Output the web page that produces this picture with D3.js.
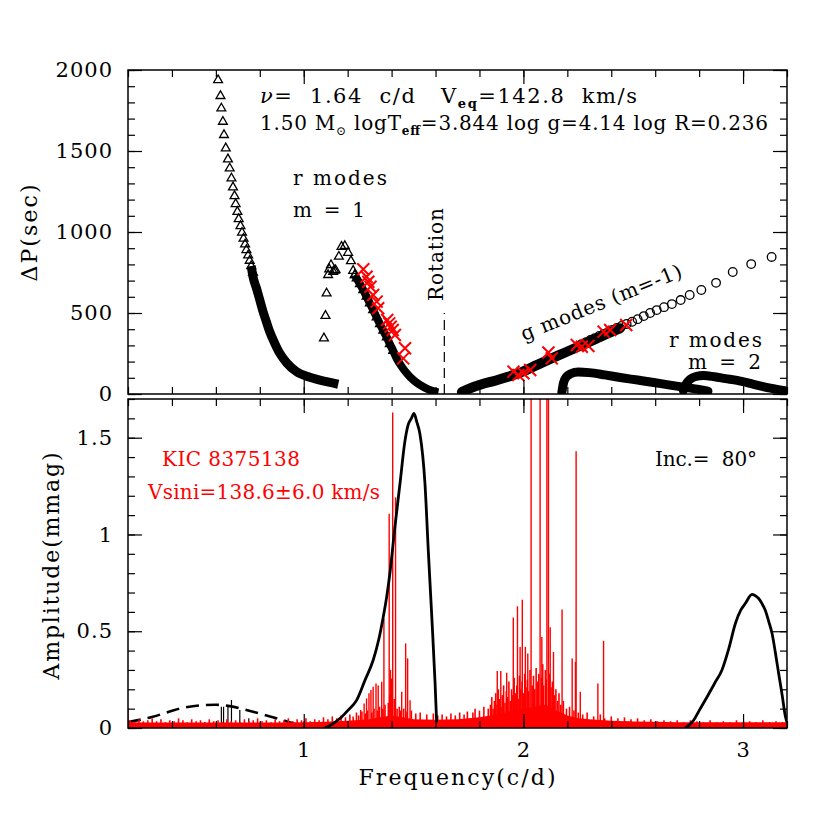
<!DOCTYPE html>
<html>
<head>
<meta charset="utf-8">
<script src="https://cdn.jsdelivr.net/npm/d3@7"></script>
<style>
html, body { margin: 0; padding: 0; background: #fff; }
svg { display: block; font-family: 'DejaVu Serif', serif; }
</style>
</head>
<body>
<svg id="chart" width="830" height="830"></svg>
<script>
// ---- top panel: period spacing (sec) vs frequency (c/d) ----
const rotFreq = 1.64;
const rotLineTop = 500;

// r modes m=1, low-frequency branch: resolved triangles, then the dense run
const rModeLow = [[0.610,1938],[0.621,1840],[0.625,1763],[0.632,1681],[0.637,1599],[0.645,1517],[0.655,1449],
  [0.663,1393],[0.671,1331],[0.678,1276],[0.685,1222],[0.690,1173],[0.698,1125],[0.704,1080],[0.712,1037],
  [0.719,996],[0.726,959],[0.733,924],[0.739,889],[0.747,856],[0.754,823],[0.761,790],[0.769,750]];
const rModeLowBand = [[0.761,790],[0.769,724],[0.785,652],[0.800,580],[0.815,508],[0.830,446],
  [0.845,385],[0.868,313],[0.891,251],[0.922,193],[0.967,138],[1.028,103],[1.104,76],[1.157,60]];

// r modes m=1, second branch
const rModeHigh = [[1.092,344],[1.099,483],[1.104,621],[1.111,735],[1.116,770],[1.124,796],[1.134,755],
  [1.140,762],[1.145,765],[1.160,848],[1.172,909],[1.187,914],[1.202,872],[1.215,821],[1.225,761],[1.233,735]];
const rModeHighBand = [[1.233,735],[1.241,714],[1.256,679],[1.271,642],[1.286,601],[1.301,560],[1.316,519],
  [1.332,473],[1.347,432],[1.362,391],[1.378,350],[1.392,309],[1.407,267],[1.423,220],[1.446,169],[1.469,128],
  [1.499,86],[1.529,56],[1.567,29],[1.598,14],[1.613,10]];

// g modes m=-1
const gModes = [[3.130,846],[3.037,802],[2.953,753],[2.877,686],[2.810,642],[2.757,611],[2.716,580],[2.676,555],
  [2.640,536],[2.607,518],[2.577,500],[2.548,481],[2.520,462],[2.495,446],[2.470,432],[2.447,420],[2.425,408],
  [2.405,396],[2.385,383],[2.365,371],[2.345,358],[2.325,345],[2.305,333],[2.285,320],[2.265,308]];
const gModesBand = [[1.720,12],[1.757,35],[1.810,60],[1.871,82],[1.930,106],[1.985,132],[2.050,172],[2.122,216],
  [2.190,256],[2.259,298],[2.330,340],[2.395,380],[2.440,405]];

// r modes m=2 (two runs)
const rModeM2a = [[2.175,10],[2.183,70],[2.195,105],[2.215,125],[2.250,136],[2.300,132],[2.370,118],[2.441,102],
  [2.520,86],[2.593,71],[2.660,56],[2.729,42],[2.790,30],[2.840,18]];
const rModeM2b = [[2.728,22],[2.740,60],[2.760,92],[2.785,108],[2.820,114],[2.870,106],[2.920,95],[2.973,84],
  [3.048,60],[3.124,36],[3.200,18]];

// observed spacings (red crosses)
const obsR = [[1.271,770],[1.286,724],[1.294,693],[1.304,662],[1.316,611],[1.332,570],[1.339,529],[1.380,457],
  [1.389,436],[1.396,415],[1.405,395],[1.415,364],[1.461,282],[1.453,220]];
const obsG = [[1.955,138],[1.977,117],[2.000,128],[2.031,148],[2.114,256],[2.129,220],[2.243,302],[2.266,292],
  [2.296,296],[2.365,385],[2.395,395],[2.468,426]];

// ---- bottom panel: amplitude (mmag) ----
const ampRm1 = [[1.096,0],[1.130,0.02],[1.166,0.05],[1.200,0.09],[1.241,0.144],[1.280,0.25],[1.316,0.35],
  [1.342,0.46],[1.362,0.574],[1.378,0.68],[1.392,0.797],[1.415,1.038],[1.438,1.261],[1.461,1.485],[1.475,1.565],
  [1.490,1.60],[1.502,1.625],[1.515,1.58],[1.529,1.519],[1.552,1.261],[1.567,0.918],[1.583,0.574],[1.598,0.23],
  [1.605,0.03]];
const ampRm2 = [[2.737,0],[2.775,0.04],[2.800,0.09],[2.836,0.16],[2.870,0.23],[2.904,0.30],[2.935,0.41],
  [2.965,0.54],[2.990,0.61],[3.010,0.643],[3.041,0.69],[3.060,0.68],[3.071,0.669],[3.085,0.645],[3.101,0.608],
  [3.117,0.55],[3.132,0.488],[3.147,0.39],[3.162,0.282],[3.178,0.17],[3.193,0.058],[3.200,0.03]];
const ampGLow = [[0.200,0.03],[0.313,0.058],[0.435,0.10],[0.541,0.118],[0.600,0.12],[0.663,0.113],[0.769,0.084],
  [0.876,0.05],[0.982,0.015],[1.073,0.002],[1.100,0]];
const ampGHigh = [[2.100,0],[2.200,0.005],[2.335,0.024],[2.441,0.027],[2.593,0.015],[2.729,0.003],[2.850,0]];
const blackPeaks = [[0.549,0.03],[0.625,0.11],[0.635,0.11],[0.655,0.11],[0.671,0.145],[0.709,0.093],[0.75,0.05]];

// KIC 8375138 amplitude spectrum: solid noise floor, grass, resolved peaks
const noiseFreq = [0.2,0.3,0.4,0.5,0.6,0.7,0.8,0.9,1.0,1.1,1.2,1.3,1.35,1.4,1.45,1.5,1.6,1.7,1.8,1.85,1.9,
  1.95,2.0,2.05,2.1,2.15,2.2,2.25,2.3,2.4,2.5,2.6,2.7,2.8,2.9,3.0,3.1,3.2];
const noiseAmp = [0.03,0.028,0.028,0.028,0.028,0.028,0.028,0.028,0.03,0.032,0.038,0.045,0.055,0.065,0.055,0.045,
  0.042,0.045,0.055,0.065,0.075,0.09,0.1,0.11,0.12,0.09,0.065,0.05,0.045,0.038,0.034,0.032,0.03,0.03,0.03,0.03,0.03,0.03];
const kicGrass = [[0.21,0.04],[0.23,0.03],[0.25,0.045],[0.27,0.035],[0.29,0.04],[0.31,0.05],[0.33,0.035],
  [0.35,0.045],[0.37,0.03],[0.39,0.04],[0.41,0.035],[0.43,0.05],[0.45,0.04],[0.47,0.03],[0.49,0.045],
  [0.51,0.035],[0.53,0.04],[0.55,0.03],[0.57,0.045],[0.59,0.035],[0.61,0.04],[0.63,0.03],[0.65,0.045],
  [0.67,0.035],[0.69,0.04],[0.71,0.03],[0.73,0.045],[0.75,0.035],[0.77,0.04],[0.79,0.05],[0.81,0.035],
  [0.83,0.04],[0.85,0.03],[0.87,0.045],[0.89,0.035],[0.91,0.04],[0.93,0.05],[0.95,0.035],[0.97,0.045],
  [0.99,0.04],[1.01,0.05],[1.03,0.035],[1.05,0.045],[1.07,0.04],[1.09,0.055],[1.11,0.045],[1.13,0.06],
  [1.15,0.05],[1.17,0.065],[1.19,0.055],[1.21,0.07],[1.225,0.06],[1.24,0.08],[1.25,0.065],[1.265,0.085],
  [1.28,0.075],[1.29,0.09],[1.31,0.08],[1.32,0.1],[1.335,0.09],[1.345,0.11],[1.36,0.1],[1.37,0.12],
  [1.385,0.13],[1.392,0.17],[1.398,0.14],[1.412,0.15],[1.425,0.1],[1.435,0.11],[1.44,0.09],[1.455,0.1],
  [1.47,0.085],[1.49,0.09],[1.51,0.075],[1.53,0.08],[1.56,0.07],[1.59,0.075],[1.61,0.065],[1.63,0.07],
  [1.65,0.06],[1.67,0.075],[1.69,0.065],[1.71,0.08],[1.73,0.07],[1.745,0.085],[1.77,0.08],[1.78,0.1],
  [1.80,0.09],[1.82,0.11],[1.84,0.1],[1.850,0.12],[1.856,0.16],[1.862,0.10],[1.868,0.14],[1.874,0.18],
  [1.880,0.12],[1.886,0.20],[1.892,0.15],[1.898,0.11],[1.904,0.17],[1.910,0.22],[1.916,0.13],[1.922,0.19],
  [1.928,0.16],[1.934,0.24],[1.940,0.14],[1.946,0.20],[1.952,0.17],[1.958,0.26],[1.964,0.18],[1.970,0.22],
  [1.976,0.15],[1.982,0.27],[1.988,0.20],[1.994,0.24],[2.000,0.18],[2.006,0.28],[2.012,0.21],[2.018,0.25],
  [2.024,0.19],[2.030,0.30],[2.040,0.22],[2.046,0.27],[2.052,0.20],[2.058,0.31],[2.064,0.24],[2.070,0.28],
  [2.082,0.26],[2.088,0.33],[2.092,0.22],[2.100,0.30],[2.104,0.25],[2.118,0.28],[2.126,0.21],[2.132,0.24],
  [2.142,0.17],[2.148,0.20],[2.156,0.14],[2.162,0.18],[2.170,0.12],[2.182,0.14],[2.196,0.10],[2.21,0.11],
  [2.23,0.09],[2.25,0.08],[2.27,0.07],[2.29,0.08],[2.32,0.06],[2.35,0.07],[2.37,0.05],[2.40,0.06],
  [2.43,0.05],[2.46,0.055],[2.49,0.045],[2.52,0.05],[2.55,0.04],[2.58,0.045],[2.61,0.035],[2.64,0.04],
  [2.67,0.035],[2.70,0.04],[2.73,0.03],[2.76,0.04],[2.79,0.035],[2.82,0.03],[2.85,0.04],[2.88,0.03],
  [2.91,0.035],[2.94,0.03],[2.97,0.04],[3.00,0.03],[3.03,0.035],[3.06,0.03],[3.09,0.04],[3.12,0.03],
  [3.15,0.035],[3.18,0.03]];
const kicPeaks = [[0.2,0.1],[1.259,0.093],[1.275,0.127],[1.286,0.153],[1.297,0.179],[1.306,0.196],[1.316,0.213],
  [1.329,0.23],[1.339,0.22],[1.355,0.239],[1.365,0.565],[1.389,1.107],[1.395,0.3],[1.40,0.256],[1.405,1.63],
  [1.418,1.192],[1.446,0.187],[1.464,0.437],[1.473,0.36],[1.484,0.144],
  [1.881,0.295],[1.897,0.295],[1.924,0.285],[1.954,0.571],[1.973,0.629],[1.985,0.419],[1.995,0.663],
  [2.009,0.419],[2.02,0.385],[2.035,2.5],[2.076,2.5],[2.084,0.47],[2.107,2.5],[2.114,2.5],[2.122,0.52],
  [2.137,0.393],[2.176,0.612],[2.222,0.359],[2.237,0.342],[2.240,1.43],[2.259,0.187],[2.339,0.23],[2.365,0.45]];

// ticks
const xMajor = [1, 2, 3];
const xLabels = ['1', '2', '3'];
const topMajor = [0, 500, 1000, 1500, 2000];
const topLabels = ['0', '500', '1000', '1500', '2000'];
const botMajor = [0, 0.5, 1, 1.5];
const botLabels = ['0', '0.5', '1', '1.5'];

const L = 128, R = 787;
const x = d3.scaleLinear().domain([0.2, 3.2]).range([L, R]);
const yTop = d3.scaleLinear().domain([0, 2000]).range([394, 70]);
const yBot = d3.scaleLinear().domain([0, 1.7]).range([728, 399]);

const svg = d3.select('#chart');
const defs = svg.append('defs');
defs.append('clipPath').attr('id', 'clipTop').append('rect')
  .attr('x', L).attr('y', 70).attr('width', R - L).attr('height', 324);
defs.append('clipPath').attr('id', 'clipBot').append('rect')
  .attr('x', L).attr('y', 399).attr('width', R - L).attr('height', 329);

// ---------- top panel ----------
const gTop = svg.append('g').attr('clip-path', 'url(#clipTop)');
const lineTop = d3.line().x(d => x(d[0])).y(d => yTop(d[1])).curve(d3.curveMonotoneX);

[[rModeLowBand, 9, 'butt'], [rModeHighBand, 8, 'butt'], [gModesBand, 10, 'round'],
 [rModeM2a, 9, 'round'], [rModeM2b, 9, 'round']].forEach(function (b) {
  gTop.append('path').datum(b[0]).attr('d', lineTop)
    .attr('fill', 'none').attr('stroke', '#000').attr('stroke-width', b[1])
    .attr('stroke-linecap', b[2]).attr('stroke-linejoin', 'round');
});

const tri = d3.symbol(d3.symbolTriangle, 34);
gTop.selectAll('.tri').data(rModeLow.concat(rModeHigh, rModeHighBand.slice(0, 13))).enter()
  .append('path').attr('class', 'tri').attr('d', tri)
  .attr('transform', d => 'translate(' + x(d[0]) + ',' + yTop(d[1]) + ')')
  .attr('fill', 'none').attr('stroke', '#000').attr('stroke-width', 1.3);

gTop.selectAll('.circ').data(gModes).enter()
  .append('circle').attr('class', 'circ')
  .attr('cx', d => x(d[0])).attr('cy', d => yTop(d[1])).attr('r', 4.3)
  .attr('fill', 'none').attr('stroke', '#000').attr('stroke-width', 1.3);

// rotation frequency
gTop.append('line').attr('x1', x(rotFreq)).attr('x2', x(rotFreq))
  .attr('y1', yTop(0)).attr('y2', yTop(rotLineTop))
  .attr('stroke', '#000').attr('stroke-width', 1.2).attr('stroke-dasharray', '10,6');

const cross = 'M-6,-6L6,6M-6,6L6,-6';
gTop.selectAll('.obs').data(obsR.concat(obsG)).enter()
  .append('path').attr('class', 'obs').attr('d', cross)
  .attr('transform', d => 'translate(' + x(d[0]) + ',' + yTop(d[1]) + ')')
  .attr('fill', 'none').attr('stroke', '#ff0000').attr('stroke-width', 2);

// ---------- bottom panel ----------
const gBot = svg.append('g').attr('clip-path', 'url(#clipBot)');
const lineBot = d3.line().x(d => x(d[0])).y(d => yBot(d[1])).curve(d3.curveMonotoneX);

[ampGLow, ampGHigh].forEach(function (c) {
  gBot.append('path').datum(c).attr('d', lineBot)
    .attr('fill', 'none').attr('stroke', '#000').attr('stroke-width', 2.6)
    .attr('stroke-dasharray', '13,7');
});
gBot.selectAll('.bpk').data(blackPeaks).enter().append('line').attr('class', 'bpk')
  .attr('x1', d => x(d[0])).attr('x2', d => x(d[0]))
  .attr('y1', yBot(0)).attr('y2', d => yBot(d[1]))
  .attr('stroke', '#000').attr('stroke-width', 1.2);

const noise = noiseFreq.map((f, i) => [f, noiseAmp[i]]);
gBot.append('path').datum(noise)
  .attr('d', d3.area().x(d => x(d[0])).y0(yBot(0)).y1(d => yBot(d[1])))
  .attr('fill', '#ff0000');
gBot.selectAll('.grass').data(kicGrass).enter().append('line').attr('class', 'grass')
  .attr('x1', d => x(d[0])).attr('x2', d => x(d[0]))
  .attr('y1', yBot(0)).attr('y2', d => yBot(d[1]))
  .attr('stroke', '#ff0000').attr('stroke-width', 1.6);
gBot.selectAll('.pk').data(kicPeaks).enter().append('line').attr('class', 'pk')
  .attr('x1', d => x(d[0])).attr('x2', d => x(d[0]))
  .attr('y1', yBot(0)).attr('y2', d => yBot(d[1]))
  .attr('stroke', '#ff0000').attr('stroke-width', 1.4);

[ampRm1, ampRm2].forEach(function (c) {
  gBot.append('path').datum(c).attr('d', lineBot)
    .attr('fill', 'none').attr('stroke', '#000').attr('stroke-width', 2.8)
    .attr('stroke-linejoin', 'round');
});

// ---------- frames and ticks ----------
function frame(y, major, labels, minorStep, y0, y1, showX) {
  const g = svg.append('g');
  const yMinor = d3.range(y.domain()[0], y.domain()[1] + 1e-9, minorStep);
  const xMinor = d3.range(0.2, 3.2001, 0.2);
  const axes = [
    [d3.axisLeft(y).tickValues(major).tickSize(-14).tickPadding(15).tickFormat((d, i) => labels[i]), L, 0],
    [d3.axisLeft(y).tickValues(yMinor).tickSize(-7).tickFormat(''), L, 0],
    [d3.axisRight(y).tickValues(major).tickSize(-14).tickFormat(''), R, 0],
    [d3.axisRight(y).tickValues(yMinor).tickSize(-7).tickFormat(''), R, 0],
    [d3.axisTop(x).tickValues(xMajor).tickSize(-14).tickFormat(''), 0, y1],
    [d3.axisTop(x).tickValues(xMinor).tickSize(-7).tickFormat(''), 0, y1],
    [d3.axisBottom(x).tickValues(xMajor).tickSize(-14).tickPadding(14)
      .tickFormat((d, i) => showX ? xLabels[i] : ''), 0, y0],
    [d3.axisBottom(x).tickValues(xMinor).tickSize(-7).tickFormat(''), 0, y0]
  ];
  axes.forEach(function (a) {
    const ag = g.append('g').attr('transform', 'translate(' + a[1] + ',' + a[2] + ')').call(a[0]);
    ag.attr('font-size', null).attr('font-family', null);
    ag.select('.domain').remove();
    ag.selectAll('line').attr('stroke', '#000').attr('stroke-width', 1.2);
    ag.selectAll('text').attr('font-size', 21).attr('letter-spacing', 1).attr('fill', '#000');
  });
  g.append('rect').attr('x', L).attr('y', y1).attr('width', R - L).attr('height', y0 - y1)
    .attr('fill', 'none').attr('stroke', '#000').attr('stroke-width', 1.5);
}
frame(yTop, topMajor, topLabels, 100, 394, 70, false);
frame(yBot, botMajor, botLabels, 0.1, 728, 399, true);

// ---------- text ----------
function label(xp, yp, str, size, len, opts) {
  opts = opts || {};
  const t = svg.append('text').attr('x', xp).attr('y', yp).attr('font-size', size)
    .attr('fill', opts.color || '#000').style('white-space', 'pre')
    .attr('text-anchor', opts.anchor || 'start').text(str);
  if (len) t.attr('textLength', len).attr('lengthAdjust', 'spacing');
  if (opts.rotate !== undefined) t.attr('transform', 'rotate(' + opts.rotate + ',' + xp + ',' + yp + ')');
  return t;
}

const t1 = svg.append('text').attr('x', 260).attr('y', 103).attr('font-size', 21).style('white-space', 'pre');
t1.append('tspan').attr('font-style', 'italic').text('ν');
t1.append('tspan').text('=  1.64  c/d   V');
t1.append('tspan').attr('font-size', 13).attr('font-weight', 'bold').attr('dy', 5).text('eq');
t1.append('tspan').attr('dy', -5).text('=142.8  km/s');
t1.attr('textLength', 377).attr('lengthAdjust', 'spacing');

const t2 = svg.append('text').attr('x', 260).attr('y', 130).attr('font-size', 20).style('white-space', 'pre');
t2.append('tspan').text('1.50 M');
t2.append('tspan').attr('font-size', 12).attr('dy', 5).text('⊙');
t2.append('tspan').attr('dy', -5).text(' logT');
t2.append('tspan').attr('font-size', 12).attr('font-weight', 'bold').attr('dy', 5).text('eff');
t2.append('tspan').attr('dy', -5).text('=3.844 log g=4.14 log R=0.236');
t2.attr('textLength', 508).attr('lengthAdjust', 'spacing');

label(293, 185, 'r modes', 20, 94);
label(293, 217, 'm = 1', 20, 72);
label(443, 301, 'Rotation', 20, 93, { rotate: -90 });
label(524, 341, 'g modes (m=-1)', 20, 172, { rotate: -22 });
label(669, 347, 'r modes', 20, 93);
label(688, 369, 'm = 2', 20, 73);

label(162, 466, 'KIC 8375138', 20, 138, { color: '#ff0000' });
label(148, 499, 'Vsini=138.6±6.0 km/s', 20, 232, { color: '#ff0000' });
label(655, 466, 'Inc.=  80°', 20, 102);

label(37, 233, 'ΔP(sec)', 22, 97, { anchor: 'middle', rotate: -90 });
label(59, 566, 'Amplitude(mmag)', 22, 227, { anchor: 'middle', rotate: -90 });
label(457, 785, 'Frequency(c/d)', 22, 197, { anchor: 'middle' });
</script>
</body>
</html>
